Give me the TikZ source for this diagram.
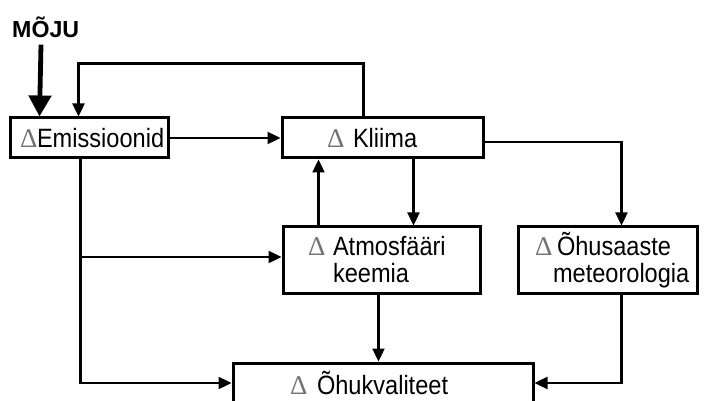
\documentclass[tikz,border=0pt]{standalone}
\usepackage{fontspec}
\setmainfont{Liberation Sans}[FakeStretch=0.89]
\newfontfamily\headfont{Liberation Sans}
\newfontfamily\deltafont{Liberation Serif}
\usetikzlibrary{arrows.meta}
% grey serif delta in a box of given width, so the word after it starts at a fixed place
\newcommand\dlt[1]{\makebox[#1][l]{\deltafont\fontsize{27}{27}\selectfont\color{black!55}Δ}}
\newcommand\lineL[1]{\rlap{#1}}
\begin{document}
\begin{tikzpicture}[x=1pt,y=-1pt,
  every node/.style={font=\fontsize{26.5}{27}\selectfont},
  box/.style={draw, line width=3pt, rectangle, align=left, inner ysep=0pt},
  arr/.style={line width=2.4pt, -{Triangle[length=13pt,width=12pt]}},
  bigarr/.style={line width=4.8pt, -{Triangle[length=21pt,width=22pt]}}]
\useasboundingbox (0,0) rectangle (705,401);

% boxes
\node[box, minimum height=40pt, text width=138pt, inner xsep=10pt] (em) at (89,138)
  {\lineL{\dlt{17pt}Emissioonid}};
\node[box, minimum height=40pt, text width=111pt, inner xsep=45pt] (kl) at (382.5,138)
  {\lineL{\dlt{26pt}Kliima}};
\node[box, minimum height=66pt, text width=147pt, inner xsep=25pt] (at) at (381.5,260)
  {\lineL{\dlt{25pt}Atmosfääri}\\\lineL{\hspace*{25pt}keemia}};
\node[box, minimum height=66pt, text width=145pt, inner xsep=17pt] (oh) at (607.5,260)
  {\lineL{\dlt{22pt}Õhusaaste}\\\lineL{\hspace*{18pt}meteorologia}};
\node[box, minimum height=40pt, text width=186pt, inner xsep=57pt] (ok) at (383,383)
  {\lineL{\dlt{27pt}Õhukvaliteet}};

% external input
\node[anchor=west, inner sep=0pt, font=\headfont\fontsize{23.2}{27}\selectfont\bfseries] (moju) at (12,27) {MÕJU};
\draw[bigarr] ([xshift=29pt,yshift=-7pt]moju.south west) -- ([xshift=31pt]em.north west);

% feedback from climate to emissions
\draw[arr] ([xshift=83pt]kl.north west) -- ++(0,-53) -| ([xshift=70pt]em.north west);

% emissions to climate
\draw[arr] (em.east) -- (kl.west);

% climate <-> atmospheric chemistry
\draw[arr] ([xshift=133pt]kl.south west) -- ([xshift=132pt]at.north west);
\draw[arr] ([xshift=37pt]at.north west) -- ([xshift=38pt]kl.south west);

% climate to pollution meteorology
\draw[arr] ([yshift=-4pt]kl.east) -| ([xshift=105pt]oh.north west);

% emissions down to air quality, with branch to chemistry
\coordinate (emtap) at ([xshift=72pt]em.south west);
\draw[arr] (emtap) |- (ok.west);
\draw[arr] ([yshift=3pt]emtap |- at.west) -- ([yshift=3pt]at.west);

% chemistry and meteorology to air quality
\draw[arr] ([xshift=97pt]at.south west) -- ([xshift=147pt]ok.north west);
\draw[arr] ([xshift=105pt]oh.south west) |- (ok.east);
\end{tikzpicture}
\end{document}
